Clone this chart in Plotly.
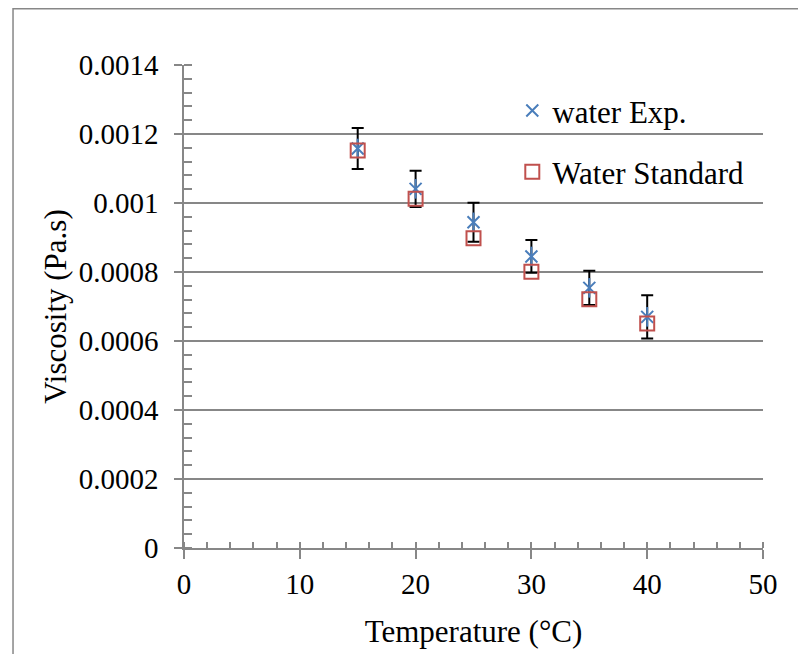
import plotly.graph_objects as go

temperature = [15, 20, 25, 30, 35, 40]
water_exp = [0.001158, 0.001041, 0.000944, 0.000845, 0.000754, 0.000670]
water_exp_err = [0.0000594, 0.0000527, 0.0000565, 0.0000474, 0.0000493, 0.0000629]
water_std = [0.001152, 0.001012, 0.000898, 0.000801, 0.000721, 0.000651]

y_tickvals = [0, 0.0002, 0.0004, 0.0006, 0.0008, 0.001, 0.0012, 0.0014]
y_ticktext = ["0", "0.0002", "0.0004", "0.0006", "0.0008", "0.001", "0.0012", "0.0014"]
x_tickvals = [0, 10, 20, 30, 40, 50]

FONT = "Liberation Serif, Times New Roman, serif"
GRAY = "#878787"
BLUE = "#4a7ebb"
RED = "#c0504d"

fig = go.Figure()
fig.add_trace(go.Scatter(
    x=temperature, y=water_exp, mode="markers", name="water Exp.",
    legendgroup="a",
    marker=dict(symbol="x-thin-open", size=12, color=BLUE,
                line=dict(color=BLUE, width=2)),
    error_y=dict(type="data", array=water_exp_err, visible=True,
                 color="black", thickness=2, width=6),
))
fig.add_trace(go.Scatter(
    x=temperature, y=water_exp, mode="markers", name="water Exp.",
    legendgroup="a", showlegend=False, hoverinfo="skip",
    marker=dict(symbol="line-ns-open", size=14, color=BLUE,
                line=dict(color=BLUE, width=2)),
))
fig.add_trace(go.Scatter(
    x=temperature, y=water_std, mode="markers", name="Water Standard",
    legendgroup="b",
    marker=dict(symbol="square-open", size=14, color=RED,
                line=dict(color=RED, width=2)),
))

fig.update_layout(
    width=806, height=654,
    margin=dict(l=176, r=51, t=57, b=114),
    paper_bgcolor="white", plot_bgcolor="white",
    font=dict(family=FONT, size=29, color="black"),
    showlegend=True,
    legend=dict(x=0.567, y=0.961, xanchor="left", yanchor="top",
                bgcolor="rgba(0,0,0,0)", tracegroupgap=18,
                font=dict(family=FONT, size=31, color="black")),
    shapes=[dict(type="rect", xref="paper", yref="paper",
                 x0=-0.2953, x1=1.2, y0=-0.3, y1=1.1164,
                 line=dict(color=GRAY, width=1.5), layer="below")],
)
fig.update_xaxes(
    range=[0, 50], tickvals=x_tickvals, ticktext=[str(v) for v in x_tickvals],
    showgrid=False, zeroline=False, showline=True, linecolor=GRAY, linewidth=1.5,
    ticks="outside", ticklen=9, tickwidth=1.5, tickcolor=GRAY,
    minor=dict(ticks="inside", dtick=2, ticklen=6, tickwidth=1.5, tickcolor=GRAY),
    title=dict(text="Temperature (°C)", standoff=22, font=dict(size=31)),
    tickfont=dict(size=29),
)
fig.update_yaxes(
    range=[0, 0.0014], tickvals=y_tickvals, ticktext=y_ticktext,
    showgrid=True, gridcolor=GRAY, gridwidth=1.5,
    zeroline=False, showline=True, linecolor=GRAY, linewidth=1.5,
    ticks="outside", ticklen=8, tickwidth=1.5, tickcolor=GRAY,
    minor=dict(ticks="inside", dtick=0.00004, ticklen=8, tickwidth=1.5, tickcolor=GRAY,
               showgrid=False),
    title=dict(text="Viscosity (Pa.s)", standoff=3, font=dict(size=31)),
    tickfont=dict(size=29),
    ticklabelstandoff=10,
)

fig.write_html("out.html")
